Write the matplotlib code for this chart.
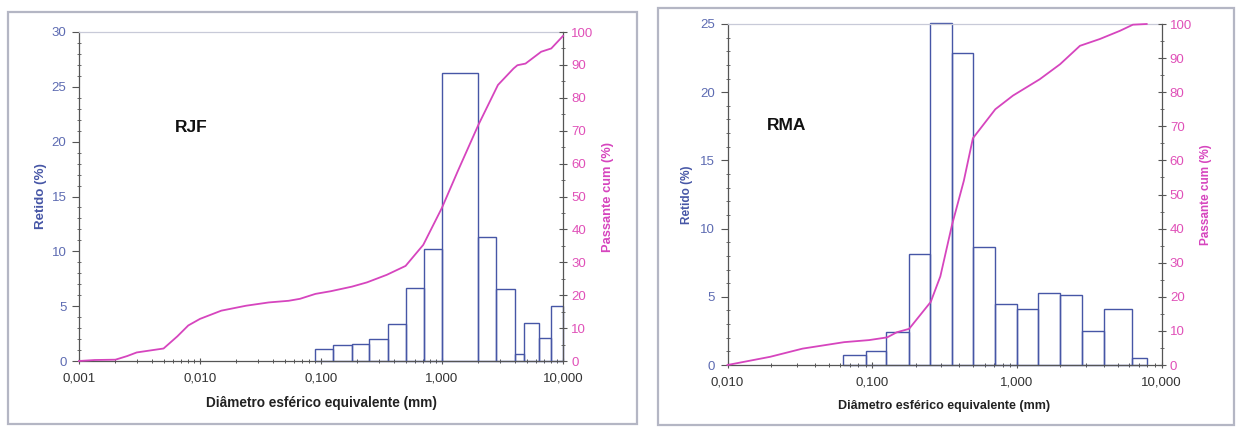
import matplotlib
matplotlib.use("Agg")
import matplotlib.pyplot as plt
import matplotlib.ticker as mticker
from matplotlib.patches import Rectangle
import numpy as np

plt.rcParams['font.family'] = ['Liberation Sans', 'DejaVu Sans']

# ---------------- data ----------------
# RJF
rjf_edges = [0.09, 0.125, 0.18, 0.25, 0.355, 0.5, 0.71, 1.0, 2.0, 2.8, 4.0, 4.75, 6.3, 8.0, 10.0]
rjf_retido = [1.13, 1.43, 1.58, 2.0, 3.41, 6.7, 10.17, 26.3, 11.27, 6.58, 0.67, 3.5, 2.1, 5.0]
rjf_diam = [0.001, 0.00135, 0.002, 0.0025, 0.003, 0.005, 0.0065, 0.008, 0.010, 0.015, 0.024,
            0.037, 0.054, 0.067, 0.09, 0.12, 0.18, 0.24, 0.35, 0.5, 0.7, 1.0, 1.35, 2.0,
            2.9, 3.9, 4.2, 4.9, 6.6, 8.0, 10.0]
rjf_pass = [0.0, 0.3, 0.4, 1.5, 2.6, 3.8, 7.5, 10.8, 12.8, 15.3, 16.8,
            17.8, 18.3, 18.9, 20.4, 21.2, 22.6, 23.9, 26.2, 28.9, 35.3, 46.6, 57.7, 71.8,
            83.9, 88.9, 89.9, 90.4, 94.0, 95.0, 98.8]

# RMA
rma_edges = [0.063, 0.09, 0.125, 0.18, 0.25, 0.355, 0.5, 0.71, 1.0, 1.4, 2.0, 2.8, 4.0, 6.3, 8.0]
rma_retido = [0.73, 1.05, 2.44, 8.17, 25.1, 22.84, 8.66, 4.5, 4.13, 5.26, 5.13, 2.47, 4.1, 0.51]
rma_diam = [0.010, 0.0197, 0.033, 0.064, 0.095, 0.127, 0.148, 0.18, 0.254, 0.296,
            0.356, 0.43, 0.497, 0.71, 0.94, 1.44, 1.99, 2.73, 3.75, 5.16, 6.34, 7.9]
rma_pass = [0.0, 2.4, 4.8, 6.7, 7.3, 8.1, 9.6, 10.6, 18.5, 26.0,
            41.0, 54.0, 66.5, 75.0, 79.0, 83.8, 88.2, 93.6, 95.6, 98.0, 99.8, 100.0]

x_label = "Diâmetro esférico equivalente (mm)"
left_label = "Retido (%)"
right_label = "Passante cum (%)"

# ---------------- style ----------------
BLUE = "#4656a6"
BLUE_TXT = "#5d6bb2"
MAG = "#d645be"
MAG_TXT = "#e050b8"
AXC = "#555555"

fig = plt.figure(figsize=(12.4, 4.28), dpi=100)
fig.patch.set_facecolor("white")

# panel frames
fig.patches.append(Rectangle((8 / 1240, 1 - 424 / 428), (637 - 8) / 1240, (424 - 12) / 428,
                             transform=fig.transFigure, fill=False, edgecolor="#b4b6c4", lw=1.6))
fig.patches.append(Rectangle((658 / 1240, 1 - 425 / 428), (1234 - 658) / 1240, (425 - 8) / 428,
                             transform=fig.transFigure, fill=False, edgecolor="#b4b6c4", lw=1.6))


def fmt_x(v, pos):
    return f"{v:.3f}".replace(".", ",")


def make_panel(rect, edges, retido, diam, passing, xlim, ymax, ymaj, ymin_step, name, name_pos,
               ylab_x, y2lab_x, xlab_size, ylab_size, y2lab_size):
    ax = fig.add_axes(rect)
    lefts = edges[:-1]
    widths = [edges[i + 1] - edges[i] for i in range(len(edges) - 1)]
    ax.bar(lefts, retido, width=widths, align="edge", fill=False, edgecolor=BLUE, lw=1.0,
           clip_on=False, zorder=2)
    ax.set_xscale("log")
    ax.set_xlim(*xlim)
    ax.set_ylim(0, ymax)
    ax.xaxis.set_major_locator(mticker.LogLocator(base=10, numticks=10))
    ax.xaxis.set_major_formatter(mticker.FuncFormatter(fmt_x))
    ax.xaxis.set_minor_locator(mticker.LogLocator(base=10, subs=np.arange(2, 10), numticks=20))
    ax.xaxis.set_minor_formatter(mticker.NullFormatter())
    ax.yaxis.set_major_locator(mticker.MultipleLocator(ymaj))
    ax.yaxis.set_minor_locator(mticker.MultipleLocator(ymin_step))
    ax.tick_params(axis="x", which="major", direction="inout", length=5, width=0.8, color=AXC,
                   labelsize=9.5, labelcolor="#333333", pad=6)
    ax.tick_params(axis="x", which="minor", direction="inout", length=3, width=0.7, color=AXC)
    ax.tick_params(axis="y", which="major", direction="out", length=5, width=0.8, color=AXC,
                   labelsize=9.5, labelcolor=BLUE_TXT, pad=4)
    ax.tick_params(axis="y", which="minor", direction="inout", length=2.5, width=0.6, color=AXC)
    for s in ("left", "bottom"):
        ax.spines[s].set_color(AXC)
        ax.spines[s].set_linewidth(0.9)
    ax.spines["top"].set_color("#c8cad8")
    ax.spines["top"].set_linewidth(0.9)
    ax.spines["right"].set_visible(False)
    ax.set_xlabel(x_label, fontsize=xlab_size, fontweight="bold", color="#222222", labelpad=8)
    ax.set_ylabel(left_label, fontsize=ylab_size, fontweight="bold", color=BLUE)
    ax.yaxis.set_label_coords(ylab_x, 0.5)
    ax.text(name_pos[0], name_pos[1], name, transform=ax.transAxes, fontsize=12.5,
            fontweight="bold", color="#111111", ha="left", va="center")

    ax2 = ax.twinx()
    ax2.plot(diam, passing, color=MAG, lw=1.3, clip_on=False, zorder=3)
    ax2.set_ylim(0, 100)
    ax2.set_xlim(*xlim)
    ax2.yaxis.set_major_locator(mticker.MultipleLocator(10))
    ax2.yaxis.set_minor_locator(mticker.MultipleLocator(5))
    ax2.tick_params(axis="y", which="major", direction="inout", length=6, width=0.8, color=AXC,
                    labelsize=9.5, labelcolor=MAG_TXT, pad=3)
    ax2.tick_params(axis="y", which="minor", direction="inout", length=3, width=0.6, color=AXC)
    for s in ("left", "bottom", "top"):
        ax2.spines[s].set_visible(False)
    ax2.spines["right"].set_color(AXC)
    ax2.spines["right"].set_linewidth(0.9)
    ax2.set_ylabel(right_label, fontsize=y2lab_size, fontweight="bold", color=MAG)
    ax2.yaxis.set_label_coords(y2lab_x, 0.5)
    return ax, ax2


make_panel([79 / 1240, 1 - 361 / 428, (563 - 79) / 1240, (361 - 32) / 428],
           rjf_edges, rjf_retido, rjf_diam, rjf_pass, (0.001, 10.0), 30, 5, 1,
           "RJF", ((175 - 79) / 484, 1 - (127 - 32) / 329), -0.066, 1.08, 9.8, 9.6, 9.3)

make_panel([727.5 / 1240, 1 - 365 / 428, (1161.5 - 727.5) / 1240, (365 - 24) / 428],
           rma_edges, rma_retido, rma_diam, rma_pass, (0.01, 10.0), 25, 5, 1,
           "RMA", ((767 - 727.5) / 434, 1 - (126 - 24) / 341), -0.0795, 1.089, 9.0, 8.5, 8.5)

fig.savefig("out.png", dpi=100, facecolor="white")
